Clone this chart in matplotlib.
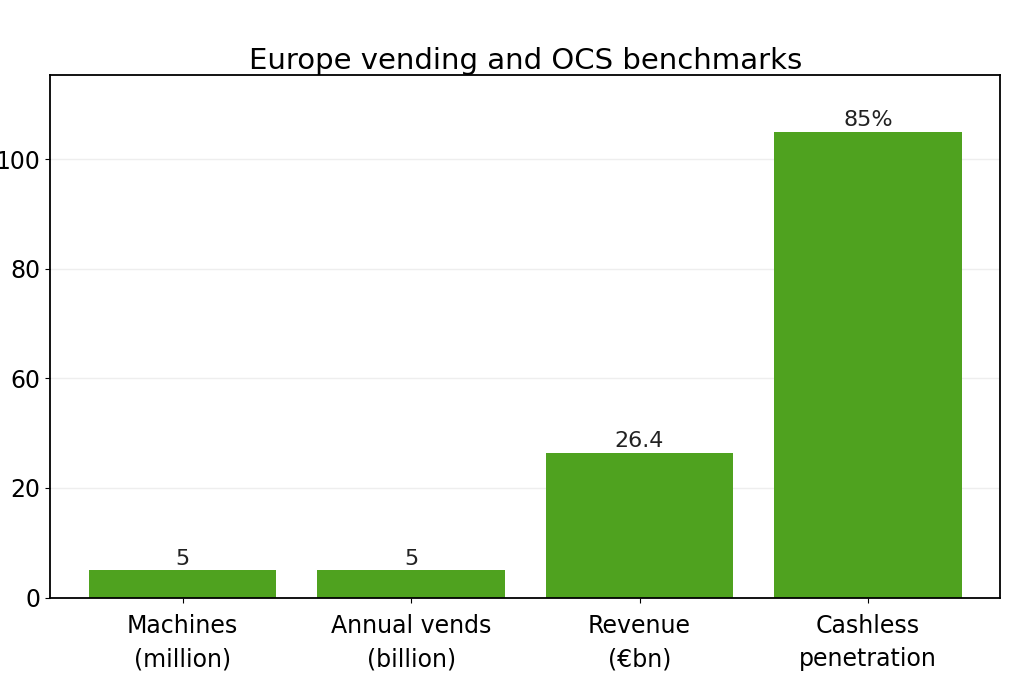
import matplotlib
matplotlib.use("Agg")
import matplotlib.pyplot as plt

categories = ["Machines\n(million)", "Annual vends\n(billion)", "Revenue\n(€bn)", "Cashless\npenetration"]
values = [5, 5, 26.4, 85]
labels = ["5", "5", "26.4", "85%"]
tick_pos = [0, 20, 40, 60, 80]
tick_labels = ["0", "20", "60", "80", "100"]

fig = plt.figure(figsize=(10.24, 6.83), dpi=100)
ax = fig.add_axes([0.049, 0.125, 0.928, 0.765])
x = range(len(categories))
bars = ax.bar(x, values, width=0.82, color="#4fa21f")
for b, l in zip(bars, labels):
    ax.text(b.get_x() + b.get_width() / 2, b.get_height() + 0.3, l,
            ha="center", va="bottom", fontsize=16, color="#222222")
ax.set_xticks(list(x))
ax.set_xticklabels(categories, fontsize=17, linespacing=1.5)
ax.tick_params(axis="x", pad=8)
ax.set_yticks(tick_pos)
ax.set_yticklabels(tick_labels, fontsize=17)
ax.set_ylim(0, 95.3)
ax.set_xlim(-0.58, 3.58)
ax.yaxis.grid(True, color="#eeeeee", linewidth=1)
ax.set_axisbelow(True)
for s in ax.spines.values():
    s.set_linewidth(1.3)
ax.set_title("Europe vending and OCS benchmarks", fontsize=21, pad=4)
fig.savefig("out.png", dpi=100)
